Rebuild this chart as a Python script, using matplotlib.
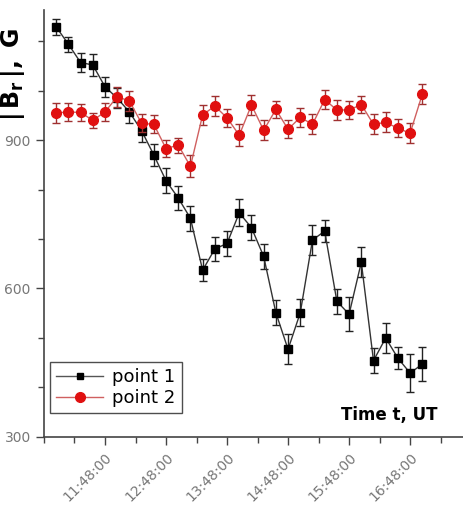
import matplotlib
matplotlib.use("Agg")
import matplotlib.pyplot as plt
import matplotlib.dates as mdates
from matplotlib.lines import Line2D
from datetime import datetime

times = ["11:00", "11:12", "11:24", "11:36", "11:48", "12:00", "12:12", "12:24",
         "12:36", "12:48", "13:00", "13:12", "13:24", "13:36", "13:48", "14:00",
         "14:12", "14:24", "14:36", "14:48", "15:00", "15:12", "15:24", "15:36",
         "15:48", "16:00", "16:12", "16:24", "16:36", "16:48", "17:00"]

point1 = [1129, 1094, 1057, 1052, 1008, 985, 957, 919, 870, 818, 783, 742, 637, 680, 691,
          753, 723, 665, 551, 477, 551, 698, 716, 574, 548, 653, 454, 500, 459, 429, 447]
point1_err = [16, 15, 20, 22, 20, 20, 22, 22, 22, 25, 25, 25, 22, 25, 25,
              27, 25, 25, 25, 30, 27, 30, 22, 25, 34, 30, 25, 30, 22, 38, 35]

point2 = [955, 957, 956, 940, 957, 988, 979, 934, 932, 883, 890, 847, 951, 969, 945,
          910, 971, 920, 962, 922, 946, 932, 982, 961, 961, 972, 932, 936, 924, 914, 993]
point2_err = [20, 18, 18, 15, 18, 20, 20, 18, 18, 18, 15, 22, 20, 20, 18,
              22, 20, 20, 18, 18, 20, 20, 20, 20, 18, 18, 20, 20, 18, 20, 20]

labeled_hours = ["11:48", "12:48", "13:48", "14:48", "15:48", "16:48"]

day = lambda s: datetime(2000, 1, 1, int(s[:2]), int(s[3:]))
t = [day(s) for s in times]

fig = plt.figure(figsize=(4.63, 5.05), dpi=100)
ax = fig.add_axes([0.095, 0.135, 0.905, 0.845])

ax.errorbar(t, point1, yerr=point1_err, color="#333333", lw=1.0, marker="s", ms=6,
            mfc="black", mec="black", ecolor="#222222", elinewidth=1.0, capsize=3,
            zorder=2)
ax.errorbar(t, point2, yerr=point2_err, color="#d06060", lw=1.0, marker="o", ms=7,
            mfc="#e01010", mec="#e01010", ecolor="#a03030", elinewidth=1.0, capsize=3,
            zorder=3)

ax.set_xlim(day("10:48"), day("17:40"))
ax.set_ylim(300, 1163)

ax.set_xticks([day(s) for s in labeled_hours])
ax.xaxis.set_minor_locator(mdates.MinuteLocator(byminute=[18, 48]))
ax.xaxis.set_major_formatter(mdates.DateFormatter("%H:%M:%S"))
ax.set_yticks([300, 600, 900])
ax.set_yticks(range(300, 1200, 100), minor=True)

for s in ["top", "right"]:
    ax.spines[s].set_visible(False)
for s in ["left", "bottom"]:
    ax.spines[s].set_color("#444444")
    ax.spines[s].set_linewidth(1.2)

ax.tick_params(which="both", direction="out", color="#444444", width=1.0)
ax.tick_params(which="major", length=6, labelsize=10, labelcolor="#777777")
ax.tick_params(which="minor", length=4)
for lab in ax.get_xticklabels():
    lab.set_rotation(45)
    lab.set_ha("right")
    lab.set_rotation_mode("anchor")

ax.text(0.94, 0.05, "Time t, UT", transform=ax.transAxes, ha="right", va="center",
        fontsize=12, fontweight="bold")
fig.text(0.028, 0.945, r"$\mathbf{|\,B_r\,|,\ G}$", rotation=90, ha="center", va="top",
         fontsize=17)

handles = [Line2D([], [], color="#555555", lw=1.0, marker="s", ms=5, mfc="black", mec="black"),
           Line2D([], [], color="#d06060", lw=1.0, marker="o", ms=7, mfc="#e01010", mec="#e01010")]
leg = ax.legend(handles, ["point 1", "point 2"], loc="lower left",
                bbox_to_anchor=(0.014, 0.055), borderaxespad=0, fontsize=13,
                frameon=True, fancybox=False, handlelength=2.6, borderpad=0.35,
                labelspacing=0.15, handletextpad=0.5)
leg.get_frame().set_edgecolor("#222222")
leg.get_frame().set_linewidth(1.0)

fig.savefig("out.png", dpi=100)
